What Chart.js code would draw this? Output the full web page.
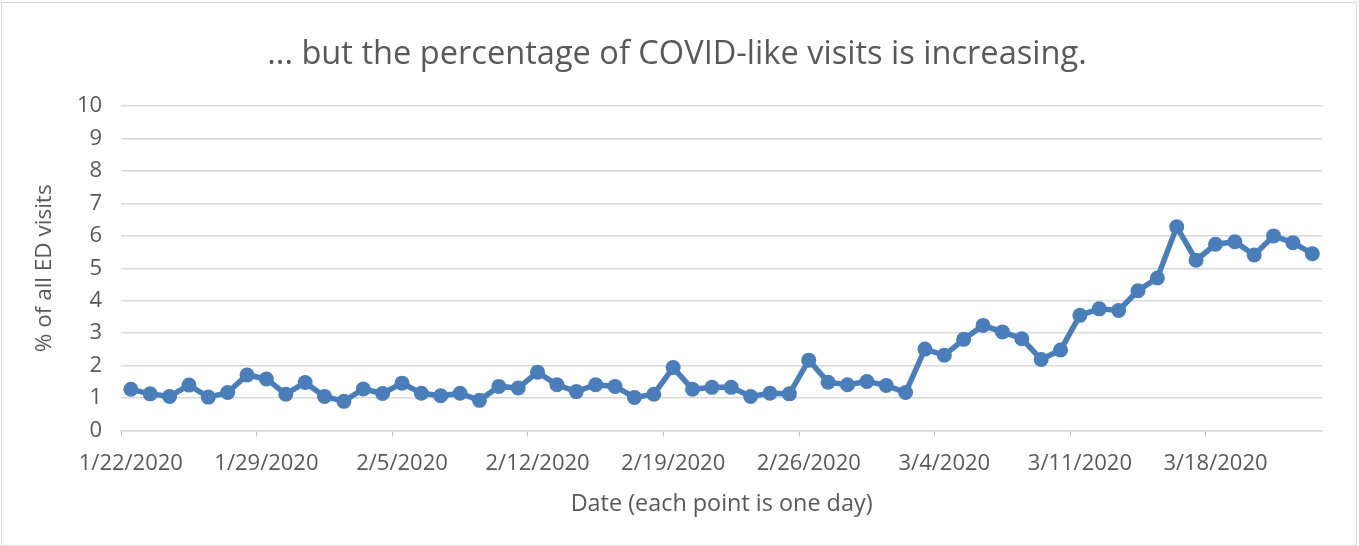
<!DOCTYPE html>
<html>
<head>
<meta charset="utf-8">
<script src="https://cdn.jsdelivr.net/npm/chart.js@4.4.1/dist/chart.umd.min.js"></script>
<style>
    html, body { margin: 0; padding: 0; background: #ffffff; }
    #wrap { position: relative; width: 1359px; height: 546px; }
    #frame { position: absolute; left: 1px; top: 2px; width: 1356px; height: 544px; border: 1px solid #d9d9d9; box-sizing: border-box; pointer-events: none; }
</style>
</head>
<body>
<div id="wrap">
    <canvas id="line-chart" width="1359" height="546"></canvas>
    <div id="frame"></div>
</div>
<script>
    // Data (one point per day, 1/22/2020 - 3/23/2020)
    var days = [
        "1/22/2020", "1/23/2020", "1/24/2020", "1/25/2020", "1/26/2020", "1/27/2020", "1/28/2020",
        "1/29/2020", "1/30/2020", "1/31/2020", "2/1/2020", "2/2/2020", "2/3/2020", "2/4/2020",
        "2/5/2020", "2/6/2020", "2/7/2020", "2/8/2020", "2/9/2020", "2/10/2020", "2/11/2020",
        "2/12/2020", "2/13/2020", "2/14/2020", "2/15/2020", "2/16/2020", "2/17/2020", "2/18/2020",
        "2/19/2020", "2/20/2020", "2/21/2020", "2/22/2020", "2/23/2020", "2/24/2020", "2/25/2020",
        "2/26/2020", "2/27/2020", "2/28/2020", "2/29/2020", "3/1/2020", "3/2/2020", "3/3/2020",
        "3/4/2020", "3/5/2020", "3/6/2020", "3/7/2020", "3/8/2020", "3/9/2020", "3/10/2020",
        "3/11/2020", "3/12/2020", "3/13/2020", "3/14/2020", "3/15/2020", "3/16/2020", "3/17/2020",
        "3/18/2020", "3/19/2020", "3/20/2020", "3/21/2020", "3/22/2020", "3/23/2020"
    ];
    var covidPct = [
        1.27, 1.13, 1.05, 1.40, 1.03, 1.17, 1.71,
        1.59, 1.12, 1.48, 1.05, 0.90, 1.28, 1.14,
        1.46, 1.15, 1.07, 1.15, 0.93, 1.36, 1.31,
        1.80, 1.41, 1.20, 1.41, 1.36, 1.02, 1.12,
        1.94, 1.27, 1.33, 1.33, 1.05, 1.15, 1.13,
        2.17, 1.49, 1.41, 1.51, 1.39, 1.17, 2.51,
        2.32, 2.81, 3.24, 3.04, 2.83, 2.19, 2.48,
        3.55, 3.75, 3.70, 4.31, 4.70, 6.28, 5.25,
        5.74, 5.82, 5.41, 6.00, 5.79, 5.45
    ];
    var labelEvery = 7;
    var yMin = 0, yMax = 10, yStep = 1;

    var textColor = "#595959";
    var gridColor = "#d9d9d9";
    var fontFamily = "'Open Sans', sans-serif";

    var ctx = document.getElementById("line-chart").getContext("2d");
    var myChart = new Chart(ctx, {
        type: "line",
        data: {
            labels: days,
            datasets: [{
                label: "% of all ED visits",
                data: covidPct,
                borderColor: "#4a7ebb",
                backgroundColor: "#4a7ebb",
                borderWidth: 5.5,
                pointRadius: 7.5,
                pointBorderWidth: 0,
                pointHoverRadius: 7.5,
                tension: 0,
                fill: false
            }]
        },
        options: {
            responsive: false,
            animation: false,
            layout: {
                padding: { left: 0, right: 5, top: 14, bottom: 28 }
            },
            plugins: {
                legend: { display: false },
                tooltip: { enabled: false },
                title: {
                    display: true,
                    text: "... but the percentage of COVID-like visits is increasing.",
                    color: textColor,
                    font: { family: fontFamily, size: 32.6, weight: "normal" },
                    padding: { top: 21, bottom: 32 }
                }
            },
            scales: {
                x: {
                    offset: true,
                    grid: {
                        offset: true,
                        drawOnChartArea: false,
                        drawTicks: true,
                        tickLength: 6,
                        color: function (c) {
                            return c.index % labelEvery === 0 ? "#bfbfbf" : "rgba(0,0,0,0)";
                        }
                    },
                    border: { display: true, color: gridColor, width: 1.5 },
                    ticks: {
                        autoSkip: false,
                        maxRotation: 0,
                        padding: 14,
                        color: textColor,
                        font: { family: fontFamily, size: 22 },
                        callback: function (value, index) {
                            return index % labelEvery === 0 ? days[index] : "";
                        }
                    },
                    title: {
                        display: true,
                        text: "Date (each point is one day)",
                        color: textColor,
                        font: { family: fontFamily, size: 23.4 },
                        padding: { top: -1, bottom: 0 }
                    }
                },
                y: {
                    min: yMin,
                    max: yMax,
                    grid: {
                        color: gridColor,
                        lineWidth: 1.5,
                        drawTicks: false
                    },
                    border: { display: false },
                    ticks: {
                        stepSize: yStep,
                        padding: 19,
                        color: textColor,
                        font: { family: fontFamily, size: 22 }
                    },
                    title: {
                        display: true,
                        text: "% of all ED visits",
                        color: textColor,
                        font: { family: fontFamily, size: 22.5 },
                        padding: { top: 31, bottom: 0 }
                    }
                },
                // empty right-hand spacer so the title centres like the original
                spacer: {
                    type: "linear",
                    position: "right",
                    display: true,
                    grid: { display: false },
                    border: { display: false },
                    ticks: { display: false },
                    afterFit: function (scale) {
                        scale.width = 32;
                    }
                }
            }
        }
    });
</script>
</body>
</html>
